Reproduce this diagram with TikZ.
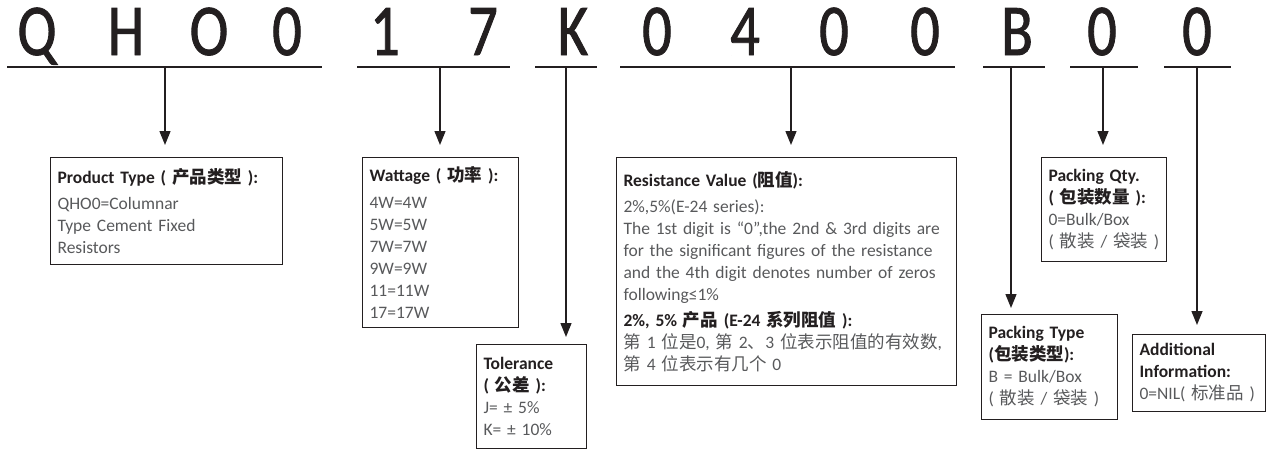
\documentclass[tikz,border=0pt]{standalone}
\usepackage{fontspec}
\setmainfont{Carlito}
\newfontfamily\bigfont{Carlito}[FakeStretch=0.8, FakeBold=1.2]
\newfontfamily\cjk{Noto Sans CJK SC}
\usetikzlibrary{arrows.meta, calc}
\definecolor{ink}{HTML}{231F20}
\definecolor{txtgray}{HTML}{58595B}
\newcommand{\hd}[1]{\textcolor{ink}{\bfseries #1}}
\newcommand{\zh}[1]{{\cjk #1}}

\begin{document}
\begin{tikzpicture}[x=1pt, y=-1pt, >={Triangle[length=14pt, width=11pt]},
    field/.style={draw=ink, line width=1.1pt, anchor=north west, align=left,
                  inner xsep=7pt, inner ysep=0pt, text=txtgray,
                  font=\fontsize{17.5}{22}\selectfont},
    digit/.style={anchor=base, text=ink, inner sep=0pt, font=\bigfont\fontsize{73}{73}\selectfont},
    bar/.style={draw=ink, line width=1.4pt},
    pointer/.style={->, draw=ink, line width=1.4pt, shorten >=12pt}]
    \useasboundingbox (0,0) rectangle (1270,450);

    % part number
    \node[digit] (c1) at (37,55) {Q};
    \node[digit] (c2) at (126,55) {H};
    \node[digit] (c3) at (209,55) {O};
    \node[digit] (c4) at (287,55) {0};
    \node[digit] (c5) at (385,55) {1};
    \node[digit] (c6) at (483,55) {7};
    \node[digit] (c7) at (573,55) {K};
    \node[digit] (c8) at (657,55) {0};
    \node[digit] (c9) at (745,55) {4};
    \node[digit] (c10) at (834,55) {0};
    \node[digit] (c11) at (925,55) {0};
    \node[digit] (c12) at (1017,55) {B};
    \node[digit] (c13) at (1102,55) {0};
    \node[digit] (c14) at (1197,55) {0};

    % underlines
    \draw[bar] (7,67) -- (322,67);
    \draw[bar] (357,67) -- (510,67);
    \draw[bar] (535,67) -- (597,67);
    \draw[bar] (620,67) -- (955,67);
    \draw[bar] (983,67) -- (1045,67);
    \draw[bar] (1070,67) -- (1138,67);
    \draw[bar] (1164,67) -- (1231,67);
    \coordinate (tType) at (165,67);
    \coordinate (tWatt) at (440,67);
    \coordinate (tTol) at (566,67);
    \coordinate (tRes) at (791,67);
    \coordinate (tPack) at (1011,67);
    \coordinate (tQty) at (1103,67);
    \coordinate (tAdd) at (1197,67);

    % field boxes
    \node[field, text width=218pt, minimum height=107pt] (ptype) at (50,157)
        {\hd{Product Type ( \zh{产品类型} ):}\\[4pt]
         QHO0=Columnar\\ Type Cement Fixed\\ Resistors};
    \node[field, text width=142pt, minimum height=170pt] (watt) at (362,157)
        {\hd{Wattage ( \zh{功率} ):}\\[5pt]
         4W=4W\\ 5W=5W\\ 7W=7W\\ 9W=9W\\ 11=11W\\ 17=17W};
    \node[field, text width=96pt, minimum height=104pt] (tol) at (476,344)
        {\hd{Tolerance}\\ \hd{( \zh{公差} ):}\\
         J= ± 5\%\\ K= ± 10\%};
    \node[field, text width=326pt, minimum height=228pt] (resv) at (616,157)
        {\hd{Resistance Value (\zh{阻值}):}\\[4pt]
         2\%,5\%(E-24 series):\\
         The 1st digit is “0”,the 2nd \& 3rd digits are\\
         for the significant figures of the resistance\\
         and the 4th digit denotes number of zeros\\
         following≤1\%\\[4pt]
         \hd{2\%, 5\% \zh{产品} (E-24 \zh{系列阻值} ):}\\
         \zh{第} 1 \zh{位是}0, \zh{第} 2\zh{、}3 \zh{位表示阻值的有效数},\\
         \zh{第} 4 \zh{位表示有几个} 0};
    \node[field, text width=111pt, minimum height=104pt] (pqty) at (1041,157)
        {\hd{Packing Qty.}\\ \hd{( \zh{包装数量} ):}\\
         0=Bulk/Box\\ ( \zh{散装} / \zh{袋装} )};
    \node[field, text width=122pt, minimum height=105pt] (ptyp) at (981,314)
        {\hd{Packing Type}\\ \hd{(\zh{包装类型}):}\\
         B = Bulk/Box\\ ( \zh{散装} / \zh{袋装} )};
    \node[field, text width=119pt, minimum height=77pt] (addi) at (1132,334)
        {\hd{Additional}\\ \hd{Information:}\\
         0=NIL( \zh{标准品} )};

    % pointers
    \draw[pointer] (tType) -- (tType |- ptype.north);
    \draw[pointer] (tWatt) -- (tWatt |- watt.north);
    \draw[pointer, shorten >=7pt] (tTol) -- (tTol |- tol.north);
    \draw[pointer] (tRes) -- (tRes |- resv.north);
    \draw[pointer, shorten >=6pt] (tPack) -- (tPack |- ptyp.north);
    \draw[pointer] (tQty) -- (tQty |- pqty.north);
    \draw[pointer, shorten >=9pt] (tAdd) -- (tAdd |- addi.north);
\end{tikzpicture}
\end{document}
